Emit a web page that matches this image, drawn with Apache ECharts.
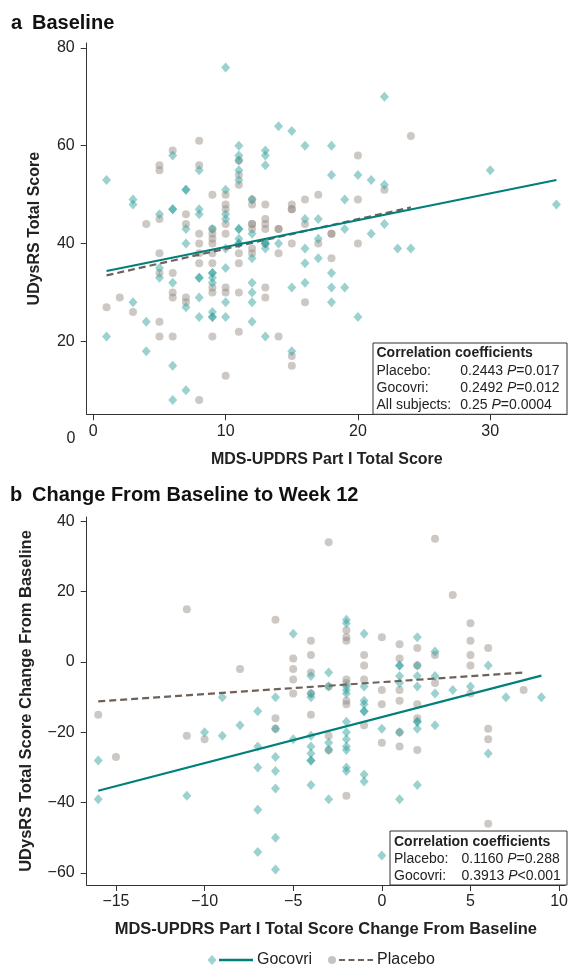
<!DOCTYPE html>
<html><head><meta charset="utf-8">
<script src="https://cdn.jsdelivr.net/npm/echarts@6/dist/echarts.min.js"></script>
<style>html,body{margin:0;padding:0;background:#fff}#c{width:571px;height:966px}</style>
</head><body><div id="c"></div>
<script>
const FONT = '"Liberation Sans", Arial, Helvetica, sans-serif';

// ---- Panel a: Baseline ----
const topXTicks = [0, 10, 20, 30];
const topYTicks = [20, 40, 60, 80];
const topGocovri = [
[10,76],[14,64],[15,63],[16,60],[18,60],[22,70],[1,53],[3,49],[3,48],[6,58],[6,47],[6,47],[7,51],[7,51],[5,46],[8,55],[8,47],[8,46],[10,51],[10,46],[10,45],[11,60],[11,58],[11,57],[11,55],[11,53],[12,49],[13,59],[13,58],[13,56],[18,54],[20,54],[21,53],[22,52],[19,49],[16,45],[17,45],[30,55],[35,48],[22,44],[19,43],
[1,21],[3,28],[4,24],[4,18],[5,35],[5,33],[6,32],[6,15],[6,8],[7,43],[7,40],[7,27],[7,10],[8,33],[8,33],[8,29],[8,25],[9,43],[9,34],[9,34],[9,33],[9,32],[9,26],[9,25],[9,25],[10,39],[10,35],[10,28],[10,25],[11,43],[11,43],[11,41],[11,40],[11,40],[12,42],[12,37],[12,32],[12,30],[12,28],[12,24],[13,40],[13,40],[13,39],[13,21],[14,40],[15,31],
[16,39],[17,41],[21,42],[23,39],[24,39],[16,36],[17,37],[18,34],[16,32],[18,31],[19,31],[18,28],[20,25],[15,18]
];
const topPlacebo = [
[5,56],[5,55],[6,59],[8,61],[8,56],[9,50],[10,50],[10,48],[10,47],[7,46],[5,45],[4,44],[7,44],[10,44],[11,57],[11,54],[11,52],[12,49],[12,48],[12,44],[12,44],[13,48],[13,45],[13,44],[14,43],[14,43],[15,47],[15,47],
[24,62],[20,58],[22,51],[17,50],[16,49],[20,49],[15,48],[16,44],
[1,27],[2,29],[3,26],[5,38],[5,34],[5,24],[5,21],[6,34],[6,30],[6,29],[6,21],[7,29],[7,28],[8,42],[8,40],[8,38],[8,36],[8,8],[9,43],[9,42],[9,41],[9,40],[9,38],[9,36],[9,31],[9,30],[9,21],[10,42],[10,31],[10,30],[10,13],[11,38],[11,36],[11,30],[11,22],[12,43],[12,39],[12,38],[13,43],[13,40],[13,31],[13,29],[14,38],[14,21],
[15,40],[17,40],[18,42],[18,42],[20,40],[18,37],[16,28],[15,17],[15,15]
];
const topGocovriFit = [[1,34.4],[35,53]];
const topPlaceboFit = [[1,33.5],[24,47.4]];

// ---- Panel b: Change from baseline to week 12 ----
const botXTicks = [-15, -10, -5, 0, 5, 10];
const botYTicks = [-60, -40, -20, 0, 20, 40];
const botGocovri = [
[-16,-28],[-16,-39],[-11,-38],[-10,-20],[-9,-10],[-9,-21],[-8,-18],[-7,-14],[-7,-24],[-7,-30],[-7,-42],[-7,-54],[-6,-10],[-6,-19],[-6,-27],[-6,-31],[-6,-36],[-6,-50],[-6,-59],
[-5,8],[-5,-22],[-4,-4],[-4,-9],[-4,-10],[-4,-21],[-4,-24],[-4,-26],[-4,-28],[-4,-28],[-4,-35],
[-3,-3],[-3,-7],[-3,-23],[-3,-25],[-3,-39],
[-2,12],[-2,11],[-2,-7],[-2,-8],[-2,-9],[-2,-17],[-2,-20],[-2,-22],[-2,-24],[-2,-25],[-2,-30],[-2,-31],
[-1,8],[-1,-7],[-1,-11],[-1,-12],[-1,-14],[-1,-14],[-1,-32],[-1,-34],
[0,-19],[0,-55],
[1,-1],[1,-1],[1,-4],[1,-6],[1,-20],[1,-39],
[2,7],[2,-1],[2,-4],[2,-7],[2,-17],[2,-17],[2,-19],[2,-35],
[3,3],[3,-4],[3,-9],[3,-18],
[4,-8],[5,-7],[6,-1],[6,-26],[7,-10],[9,-10]
];
const botPlacebo = [
[-16,-15],[-15,-27],[-11,15],[-11,-21],[-10,-22],[-8,-2],[-6,12],[-6,-16],[-6,-19],
[-5,1],[-5,-2],[-5,-5],[-5,-9],
[-4,6],[-4,2],[-4,-3],[-4,-9],[-4,-15],
[-3,34],[-3,-7],[-3,-21],[-3,-25],
[-2,9],[-2,7],[-2,6],[-2,-5],[-2,-6],[-2,-11],[-2,-12],[-2,-38],
[-1,2],[-1,-1],[-1,-5],[-1,-18],
[0,7],[0,-8],[0,-12],[0,-23],
[1,5],[1,1],[1,-8],[1,-11],[1,-20],[1,-24],
[2,4],[2,-1],[2,-12],[2,-16],[2,-25],
[3,35],[3,2],[3,-6],
[4,19],
[5,11],[5,6],[5,2],[5,-1],[5,-9],
[6,4],[6,-19],[6,-22],[6,-46],
[8,-8]
];
const botGocovriFit = [[-16,-36.6],[9,-3.9]];
const botPlaceboFit = [[-16,-11.2],[8,-3]];

const TEAL = '#007f7b', TEAL_PT = '#2a9d98', BROWN = '#6e6259', GRAY_PT = '#948a82';
const fmt = v => String(v).replace('-', '\u2212');

function axis(extra, ticks, labelMargin) {
  return Object.assign({
    type: 'value',
    axisLine: {show: true, onZero: false, lineStyle: {color: '#333', width: 1}},
    axisTick: {show: true, length: 6, lineStyle: {color: '#333'}, customValues: ticks},
    splitLine: {show: false},
    axisLabel: {color: '#222', fontSize: 16, fontFamily: FONT, margin: labelMargin, customValues: ticks, formatter: fmt},
    nameLocation: 'middle',
    nameTextStyle: {color: '#222', fontSize: 16, fontWeight: 'bold', fontFamily: FONT}
  }, extra);
}

function scatter(name, data, xi, isG) {
  return {
    type: 'scatter', name, data, xAxisIndex: xi, yAxisIndex: xi,
    symbol: isG ? 'diamond' : 'circle',
    symbolSize: isG ? [9, 10] : 8,
    itemStyle: {color: isG ? TEAL_PT : GRAY_PT, opacity: 0.47},
    z: isG ? 3 : 2, silent: true
  };
}
function fit(name, data, xi, isG) {
  return {
    type: 'line', name, data, xAxisIndex: xi, yAxisIndex: xi,
    symbol: 'none', silent: true, z: 5,
    lineStyle: {color: isG ? TEAL : BROWN, width: 2.2, type: isG ? 'solid' : [7, 4]}
  };
}

const txt = (x, y, text, o) => ({type: 'text', z: 101, style: Object.assign({x, y, text, fill: '#222', fontSize: 14, fontFamily: FONT, verticalAlign: 'middle', rich: {i: {fontStyle: 'italic', fontSize: 14, fontFamily: FONT, fill: '#222'}}}, o || {})});

const chart = echarts.init(document.getElementById('c'));
chart.setOption({
  animation: false,
  backgroundColor: '#fff',
  grid: [
    {left: 86.7, top: 43, width: 480.3, height: 371.3},
    {left: 86.7, top: 517, width: 480.3, height: 368}
  ],
  xAxis: [
    axis({gridIndex: 0, min: -0.5, max: 35.8, name: 'MDS-UPDRS Part I Total Score', nameGap: 37}, topXTicks, 9),
    axis({gridIndex: 1, min: -16.65, max: 10.33, name: 'MDS-UPDRS Part I Total Score Change From Baseline', nameGap: 36,
      nameTextStyle: {color: '#222', fontSize: 16.5, fontWeight: 'bold', fontFamily: FONT}}, botXTicks, 9)
  ],
  yAxis: [
    axis({gridIndex: 0, min: 5.1, max: 81, name: 'UDysRS Total Score', nameGap: 44}, topYTicks, 12),
    axis({gridIndex: 1, min: -63.4, max: 41.2, name: 'UDysRS Total Score Change From Baseline', nameGap: 52,
      nameTextStyle: {color: '#222', fontSize: 16.5, fontWeight: 'bold', fontFamily: FONT}}, botYTicks, 12)
  ],
  series: [
    scatter('Placebo', topPlacebo, 0, false),
    scatter('Gocovri', topGocovri, 0, true),
    fit('Placebo fit', topPlaceboFit, 0, false),
    fit('Gocovri fit', topGocovriFit, 0, true),
    scatter('Placebo', botPlacebo, 1, false),
    scatter('Gocovri', botGocovri, 1, true),
    fit('Placebo fit', botPlaceboFit, 1, false),
    fit('Gocovri fit', botGocovriFit, 1, true)
  ],
  graphic: [
    // panel titles
    {type: 'text', style: {x: 11, y: 23, text: 'a', fill: '#111', fontSize: 20, fontWeight: 'bold', fontFamily: FONT, verticalAlign: 'middle'}},
    {type: 'text', style: {x: 32, y: 23, text: 'Baseline', fill: '#111', fontSize: 20, fontWeight: 'bold', fontFamily: FONT, verticalAlign: 'middle'}},
    {type: 'text', style: {x: 10, y: 495, text: 'b', fill: '#111', fontSize: 20, fontWeight: 'bold', fontFamily: FONT, verticalAlign: 'middle'}},
    {type: 'text', style: {x: 32, y: 495, text: 'Change From Baseline to Week 12', fill: '#111', fontSize: 20, fontWeight: 'bold', fontFamily: FONT, verticalAlign: 'middle'}},
    // stray "0" label on panel a
    {type: 'text', style: {x: 71, y: 439, text: '0', fill: '#222', fontSize: 16, fontFamily: FONT, align: 'center', verticalAlign: 'middle'}},
    // correlation box a
    {type: 'rect', z: 100, shape: {x: 373, y: 343, width: 194, height: 71.3}, style: {fill: '#fff', stroke: '#333', lineWidth: 1}},
    txt(376.5, 353.5, 'Correlation coefficients', {fontWeight: 'bold'}),
    txt(376.5, 371, 'Placebo:'),
    txt(460.3, 371, '0.2443 {i|P}=0.017'),
    txt(376.5, 388, 'Gocovri:'),
    txt(460.3, 388, '0.2492 {i|P}=0.012'),
    txt(376.5, 405, 'All subjects:'),
    txt(460.3, 405, '0.25 {i|P}=0.0004'),
    // correlation box b
    {type: 'rect', z: 100, shape: {x: 390, y: 831, width: 177, height: 54}, style: {fill: '#fff', stroke: '#333', lineWidth: 1}},
    txt(394, 842, 'Correlation coefficients', {fontWeight: 'bold'}),
    txt(394, 859, 'Placebo:'),
    txt(461.5, 859, '0.1160 {i|P}=0.288'),
    txt(394, 876, 'Gocovri:'),
    txt(461.5, 876, '0.3913 {i|P}<0.001'),
    // legend
    {type: 'polygon', shape: {points: [[212, 955], [216.5, 960], [212, 965], [207.5, 960]]}, style: {fill: '#9fd3d1'}},
    {type: 'line', shape: {x1: 219, y1: 960, x2: 253, y2: 960}, style: {stroke: TEAL, lineWidth: 2.5}},
    {type: 'text', style: {x: 257, y: 960, text: 'Gocovri', fill: '#222', fontSize: 16, fontFamily: FONT, verticalAlign: 'middle'}},
    {type: 'circle', shape: {cx: 332, cy: 960, r: 4}, style: {fill: '#c8c3bf'}},
    {type: 'line', shape: {x1: 339, y1: 960, x2: 373, y2: 960}, style: {stroke: BROWN, lineWidth: 2, lineDash: [6, 3.5]}},
    {type: 'text', style: {x: 377, y: 960, text: 'Placebo', fill: '#222', fontSize: 16, fontFamily: FONT, verticalAlign: 'middle'}}
  ]
});
</script>
</body></html>
